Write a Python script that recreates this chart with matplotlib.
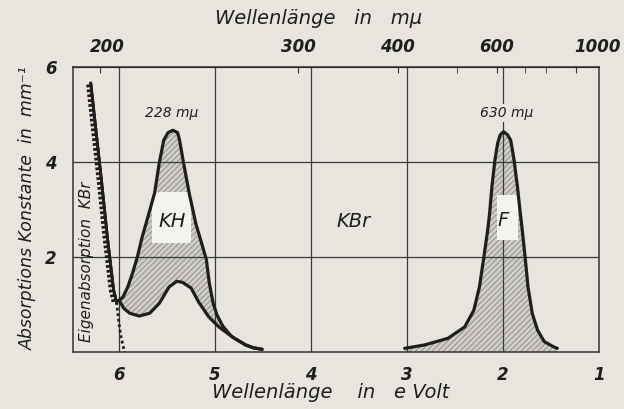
import numpy as np
import matplotlib.pyplot as plt
import matplotlib.patheffects as pe
from matplotlib.patches import Rectangle
from matplotlib.transforms import ScaledTranslation

hc = 1239.8  # eV * nm, Umrechnung Energie <-> Wellenlaenge

# Eigenabsorption KBr (durchgezogen + punktiert)
eigen_E = [6.026, 6.057, 6.119, 6.184, 6.295]
eigen_y = [1.05, 1.305, 2.36, 3.62, 5.66]
eigen_dot_E = [6.026, 6.005, 5.984, 5.943]
eigen_dot_y = [1.05, 0.67, 0.36, 0.0]

# KH-Bande, obere und untere Kurve
kh_up_E = [6.0, 5.96, 5.91, 5.86, 5.81, 5.76, 5.72, 5.63, 5.58, 5.535, 5.49, 5.44,
           5.39, 5.37, 5.33, 5.27, 5.20, 5.14, 5.09, 5.06, 5.02, 4.98, 4.92, 4.85,
           4.82, 4.68, 4.60, 4.51]
kh_up_y = [1.09, 1.16, 1.37, 1.66, 2.0, 2.42, 2.70, 3.35, 4.0, 4.46, 4.62, 4.67,
           4.62, 4.46, 4.0, 3.35, 2.70, 2.29, 1.94, 1.45, 1.03, 0.78, 0.55, 0.38,
           0.32, 0.15, 0.09, 0.06]
kh_low_E = [6.0, 5.95, 5.89, 5.79, 5.68, 5.58, 5.48, 5.40, 5.34, 5.25, 5.17, 5.065,
            4.96, 4.82, 4.68, 4.60, 4.51]
kh_low_y = [1.09, 0.92, 0.82, 0.76, 0.82, 1.03, 1.37, 1.49, 1.47, 1.35, 1.05, 0.74,
            0.53, 0.32, 0.15, 0.09, 0.06]

# F-Bande
f_E = [3.025, 2.82, 2.575, 2.40, 2.305, 2.246, 2.20, 2.16, 2.14, 2.116, 2.085, 2.057,
       2.03, 1.995, 1.955, 1.92, 1.885, 1.85, 1.82, 1.80, 1.77, 1.74, 1.695, 1.64,
       1.57, 1.47, 1.435]
f_y = [0.08, 0.15, 0.29, 0.53, 0.88, 1.37, 2.0, 2.57, 2.92, 3.48, 4.04, 4.39,
       4.57, 4.64, 4.58, 4.46, 4.04, 3.48, 2.92, 2.57, 2.0, 1.37, 0.81, 0.46,
       0.22, 0.11, 0.08]

# Achsen
e_ticks = [6, 5, 4, 3, 2, 1]
y_ticks = [2, 4, 6]
wl_major = [200, 300, 400, 600, 1000]
wl_minor = [500, 700, 800]

bg = '#e7e5de'
ink = '#1e1e1e'
plt.rcParams['font.family'] = ['DejaVu Sans']
plt.rcParams['hatch.linewidth'] = 0.5

fig = plt.figure(figsize=(6.24, 4.09), dpi=100, facecolor=bg)
ax = fig.add_axes([0.117, 0.139, 0.843, 0.697])
ax.set_facecolor(bg)
ax.set_xlim(6.48, 1.0)
ax.set_ylim(0, 6)

for s in ax.spines.values():
    s.set_color('#333333')
    s.set_linewidth(1.1)

# gitter
for e in [6, 5, 4, 3, 2]:
    ax.axvline(e, color='#3a3a3a', lw=0.9, zorder=2.5)
for yv in [2, 4]:
    ax.axhline(yv, color='#3a3a3a', lw=0.9, zorder=2.5)

hatch_kw = dict(facecolor='#cfcdc6', edgecolor='#7a7a7a', linewidth=0, hatch='//////')

# KH-Flaeche zwischen den Kurven
kh_poly = ax.fill(np.concatenate([kh_up_E, kh_low_E[::-1]]),
                  np.concatenate([kh_up_y, kh_low_y[::-1]]), zorder=2, **hatch_kw)[0]
# F-Flaeche
f_poly = ax.fill(np.concatenate([f_E, [f_E[-1], f_E[0]]]),
                 np.concatenate([f_y, [0, 0]]), zorder=2, **hatch_kw)[0]

# weisse Beschriftungsfelder
box_kh = Rectangle((5.66, 2.30), 5.25 - 5.66, 3.37 - 2.30, facecolor='#f4f3ef',
                   edgecolor='none', zorder=3)
ax.add_patch(box_kh)
box_kh.set_clip_path(kh_poly)
box_f = Rectangle((2.06, 2.36), 1.84 - 2.06, 3.30 - 2.36, facecolor='#f4f3ef',
                  edgecolor='none', zorder=3)
ax.add_patch(box_f)
box_f.set_clip_path(f_poly)

# Kurven
ax.plot(kh_up_E, kh_up_y, color=ink, lw=2.3, zorder=4, solid_capstyle='round')
ax.plot(kh_low_E, kh_low_y, color=ink, lw=2.3, zorder=4, solid_capstyle='round')
ax.plot(f_E, f_y, color=ink, lw=2.3, zorder=4, solid_capstyle='round')
ax.plot(eigen_E, eigen_y, color=ink, lw=2.0, zorder=4,
        path_effects=[pe.withTickedStroke(angle=90, length=0.7, spacing=3.5), pe.Normal()])
ax.plot(eigen_dot_E, eigen_dot_y, color=ink, lw=2.0, ls=(0, (1, 1)), zorder=4)

# Beschriftungen im Diagramm
txt = dict(color=ink, style='italic', ha='center', va='center')
ax.text(5.45, 5.03, '228 mμ', fontsize=10, zorder=5, **txt)
ax.text(1.96, 5.03, '630 mμ', fontsize=10, zorder=5,
        bbox=dict(facecolor=bg, edgecolor='none', pad=1.5), **txt)
ax.text(5.45, 2.74, 'KH', fontsize=14, zorder=5, **txt)
ax.text(2.0, 2.78, 'F', fontsize=14, zorder=5, **txt)
ax.text(3.56, 2.74, 'KBr', fontsize=14, zorder=5, **txt)
ax.text(6.34, 1.9, 'Eigenabsorption  KBr', fontsize=11, rotation=90, zorder=5, **txt)

# untere Achse (Energie)
ax.set_xticks(e_ticks)
ax.set_xticklabels([str(t) for t in e_ticks])
ax.tick_params(axis='x', bottom=True, length=0, pad=10, labelsize=12)
ax.set_yticks(y_ticks)
ax.set_yticklabels([str(t) for t in y_ticks])
ax.tick_params(axis='y', direction='in', length=4, pad=12, labelsize=12, color='#333333')
for lab in ax.get_xticklabels() + ax.get_yticklabels():
    lab.set_fontstyle('italic')
    lab.set_fontweight('bold')
    lab.set_color(ink)

# obere Achse (Wellenlaenge)
top = ax.secondary_xaxis('top', functions=(lambda e: hc / e, lambda l: hc / l))
top.set_xticks(wl_major)
top.set_xticklabels([str(w) for w in wl_major])
top.set_xticks(wl_minor, minor=True)
top.tick_params(axis='x', which='both', direction='in', length=4, pad=8,
                labelsize=12, color='#333333')
shift = {'200': 7, '1000': 22}
for lab in top.get_xticklabels():
    lab.set_fontstyle('italic')
    lab.set_fontweight('bold')
    lab.set_color(ink)
    dx = shift.get(lab.get_text(), 0)
    if dx:
        lab.set_transform(lab.get_transform() + ScaledTranslation(dx / 100, 0, fig.dpi_scale_trans))

fig.text(0.51, 0.955, 'Wellenlänge   in   mμ', fontsize=14, style='italic',
         color=ink, ha='center', va='center')
fig.text(0.53, 0.04, 'Wellenlänge    in   e Volt', fontsize=14, style='italic',
         color=ink, ha='center', va='center')
fig.text(0.045, 0.49, 'Absorptions Konstante  in  mm⁻¹', fontsize=12.5, style='italic',
         color=ink, ha='center', va='center', rotation=90)

fig.savefig('out.png', dpi=100, facecolor=bg)
